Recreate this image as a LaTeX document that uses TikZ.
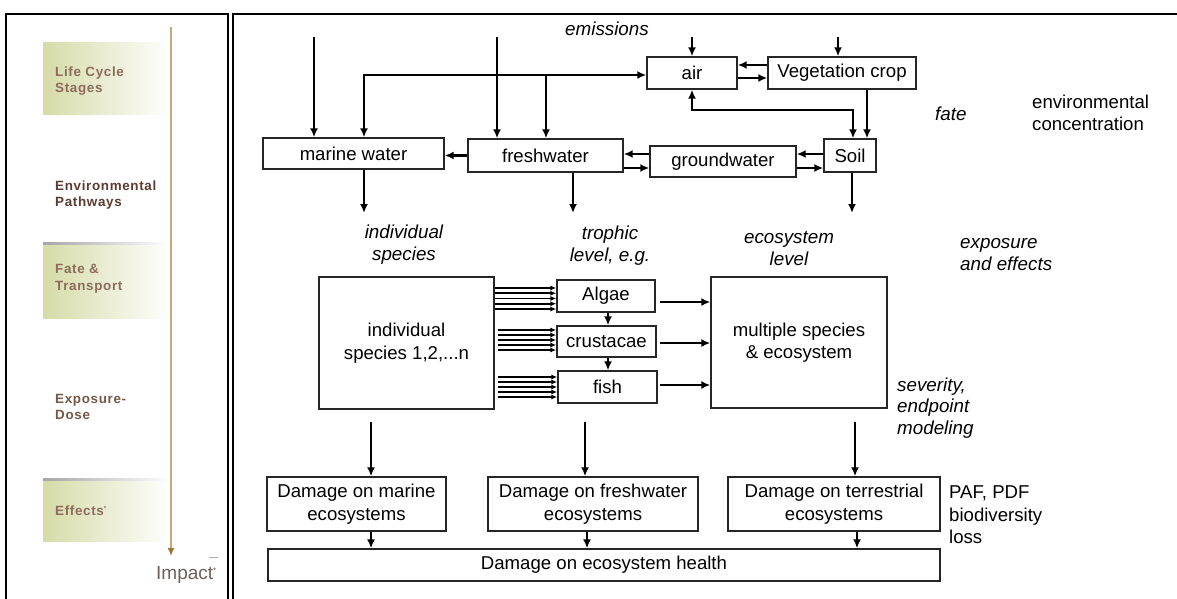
\documentclass[tikz,border=0pt]{standalone}
\usepackage{fontspec}
\setmainfont{Liberation Sans}
\newfontfamily\leftfont[LetterSpace=5]{Liberation Sans}
\usetikzlibrary{arrows.meta,calc}
\definecolor{boxol}{RGB}{214,219,168}
\definecolor{lbrown}{RGB}{140,108,92}
\definecolor{dbrown}{RGB}{92,60,50}
\definecolor{mbrown}{RGB}{118,88,74}
\definecolor{tanline}{RGB}{196,168,128}
\definecolor{tantip}{RGB}{160,120,50}
\definecolor{impcol}{RGB}{112,96,90}
\begin{document}
\begin{tikzpicture}[x=1pt,y=-1pt,
  box/.style={draw=black!85, line width=1.4pt, inner sep=0pt, font=\fontsize{18.6}{22.5}\selectfont, align=center},
  arr/.style={line width=2.2pt, -{Latex[length=9pt,width=8pt]}},
  darr/.style={line width=2.2pt, {Latex[length=9pt,width=8pt]}-{Latex[length=9pt,width=8pt]}},
  barr/.style={line width=1.6pt, -{Latex[length=6pt,width=5pt]}},
  lab/.style={font=\fontsize{18.8}{22}\selectfont\itshape, align=center, inner sep=0pt},
  rlab/.style={font=\fontsize{18.6}{22.5}\selectfont, align=left, inner sep=0pt, anchor=west},
  ltxt/.style={font=\leftfont\bfseries\fontsize{13.4}{16.5}\selectfont, align=left, inner sep=0pt, anchor=west},
  grad/.style={left color=boxol, right color=white, draw=none}
]
\useasboundingbox (0,0) rectangle (1177,599);
\fill[white] (0,0) rectangle (1177,599);

% ---------- left panel ----------
\draw[line width=2.5pt] (6,602) -- (6,14) -- (228,14) -- (228,602);
\shade[grad] (43,43) rectangle (171,115);
\shade[grad] (43,243) rectangle (171,318);
\shade[grad] (43,479) rectangle (171,541);
\shade[left color=gray!70, right color=white] (43,242) rectangle (171,244.5);
\shade[left color=gray!70, right color=white] (43,478) rectangle (171,480.5);
\draw[tanline, line width=1.2pt, -{Latex[length=8pt,width=7pt,color=tantip]}] (171,27) -- (171,556);
\node[ltxt, text=lbrown] (lcs) at (55,81) {Life Cycle\\Stages};
\node[ltxt, text=dbrown] (envp) at (55,195) {Environmental\\Pathways};
\node[ltxt, text=lbrown] (fate) at (55,279) {Fate \&\\Transport};
\node[ltxt, text=mbrown] (expd) at (55,407) {Exposure-\\Dose};
\node[ltxt, text=lbrown] (eff) at (55,511) {Effects\textsuperscript{\fontsize{6}{6}\selectfont *}};
\node[font=\fontsize{19}{21}\selectfont, text=impcol, inner sep=0pt, anchor=east] (imp) at (217,575) {Impact\textsuperscript{\fontsize{8}{8}\selectfont *}};
\draw[gray!60, line width=0.8pt] (209,557) -- (218,557);

% ---------- right panel ----------
\draw[line width=2.5pt] (233,602) -- (233,14) -- (1179,14);

\node[box, minimum width=90pt, minimum height=32pt] (air) at (692,73) {air};
\node[box, minimum width=148pt, minimum height=32pt] (veg) at (842,73) {Vegetation crop};
\node[box, minimum width=181pt, minimum height=31pt] (marine) at (353.5,153.5) {marine water};
\node[box, minimum width=155pt, minimum height=33pt] (fresh) at (545.5,155.5) {freshwater};
\node[box, minimum width=146pt, minimum height=31pt] (ground) at (723,161.5) {groundwater};
\node[box, minimum width=52pt, minimum height=33pt] (soil) at (850,155.5) {Soil};

\node[box, minimum width=175pt, minimum height=132pt] (indiv) at (406.5,343) {individual\\species 1,2,...n};
\node[box, minimum width=98pt, minimum height=32pt] (algae) at (606,296) {Algae};
\node[box, minimum width=99pt, minimum height=31pt] (crust) at (606.5,341.5) {crustacae};
\node[box, minimum width=99pt, minimum height=32pt] (fish) at (607.5,387) {fish};
\node[box, minimum width=176pt, minimum height=131pt] (multi) at (799,342.5) {multiple species\\\& ecosystem};

\node[box, minimum width=179pt, minimum height=54pt] (dmar) at (356.5,504) {Damage on marine\\ecosystems};
\node[box, minimum width=210pt, minimum height=54pt] (dfre) at (593,504) {Damage on freshwater\\ecosystems};
\node[box, minimum width=212pt, minimum height=54pt] (dter) at (834,504) {Damage on terrestrial\\ecosystems};
\node[box, minimum width=672pt, minimum height=32pt] (health) at (604,565) {Damage on ecosystem health};

% labels
\node[lab] (emis) at (607,29) {emissions};
\node[lab, anchor=west] (fatel) at (935,114) {fate};
\node[rlab] (envc) at (1032,113) {environmental\\concentration};
\node[lab] (indl) at (404,245) {individual\\species};
\node[lab] (trol) at (610,246) {trophic\\level, e.g.};
\node[lab] (ecol) at (789,249) {ecosystem\\level};
\node[lab, anchor=west, align=left] (expl) at (960,255) {exposure\\and effects};
\node[lab, anchor=west, align=left, font=\fontsize{18.8}{21.5}\selectfont\itshape] (sevl) at (897,408) {severity,\\endpoint\\modeling};
\node[rlab] (pafl) at (949,515) {PAF, PDF\\biodiversity\\loss};

% emission inputs
\coordinate (e1) at (314,37);
\coordinate (e2) at (497,37);
\coordinate (e3) at (692,37);
\coordinate (e4) at (838,37);
\draw[arr] (e1) -- (e1 |- marine.north);
\draw[arr] (e2) -- (e2 |- fresh.north);
\draw[arr] (e3) -- (e3 |- air.north);
\draw[arr] (e4) -- (e4 |- veg.north);

% water - air network
\coordinate (j1) at (364,75);
\coordinate (j2) at (546,75);
\draw[darr] (j1 |- marine.north) -- (j1) -- (j1 -| air.west);
\draw[arr] (j2) -- (j2 |- fresh.north);

% air <-> vegetation
\draw[arr] ([yshift=8pt]veg.west) -- ([yshift=8pt]air.east);
\draw[arr] ([yshift=-5pt]air.east) -- ([yshift=-5pt]veg.west);

% air <-> soil
\coordinate (k1) at (853,110);
\draw[darr] (air.south) |- (k1) -- (k1 |- soil.north);
\coordinate (k2) at (867,92);
\draw[arr] (k2 |- veg.south) -- (k2 |- soil.north);

% horizontal exchanges
\draw[arr] (fresh.west) -- (marine.east |- fresh.west);
\draw[arr] (ground.west |- 0,154) -- (fresh.east |- 0,154);
\draw[arr] (fresh.east |- 0,168) -- (ground.west |- 0,168);
\draw[arr] (soil.west |- 0,154) -- (ground.east |- 0,154);
\draw[arr] (ground.east |- 0,168) -- (soil.west |- 0,168);

% down to exposure level
\draw[arr] (marine.south -| j1) -- (j1 |- 0,213);
\coordinate (f1) at (573,213);
\draw[arr] (fresh.south -| f1) -- (f1);
\coordinate (s1) at (852,213);
\draw[arr] (soil.south -| s1) -- (s1);

% bundles
\foreach \yy in {288,293.25,298.5,303.75,309}
  \draw[barr] (indiv.east |- 0,\yy) -- (algae.west |- 0,\yy);
\foreach \yy in {330,335,340,345,350}
  \draw[barr] ([xshift=3pt]indiv.east |- 0,\yy) -- (crust.west |- 0,\yy);
\foreach \yy in {377,382,387,392,397}
  \draw[barr] ([xshift=3pt]indiv.east |- 0,\yy) -- (fish.west |- 0,\yy);

% trophic chain
\coordinate (t1) at (608,300);
\draw[arr] (algae.south -| t1) -- (crust.north -| t1);
\draw[arr] (crust.south -| t1) -- (fish.north -| t1);

% to multiple species
\coordinate (m1) at (660,302);
\coordinate (m2) at (660,343);
\coordinate (m3) at (660,385);
\draw[arr] (m1) -- (multi.west |- m1);
\draw[arr] (m2) -- (multi.west |- m2);
\draw[arr] (m3) -- (multi.west |- m3);

% down to damage
\coordinate (d1) at (371,422);
\coordinate (d2) at (585,422);
\coordinate (d3) at (855,422);
\draw[arr] (d1) -- (d1 |- dmar.north);
\draw[arr] (d2) -- (d2 |- dfre.north);
\draw[arr] (d3) -- (d3 |- dter.north);
\draw[arr] (dmar.south -| d1) -- (d1 |- health.north);
\draw[arr] (dfre.south -| 587,0) -- (587,0 |- health.north);
\draw[arr] (dter.south -| 857,0) -- (857,0 |- health.north);
\end{tikzpicture}
\end{document}
